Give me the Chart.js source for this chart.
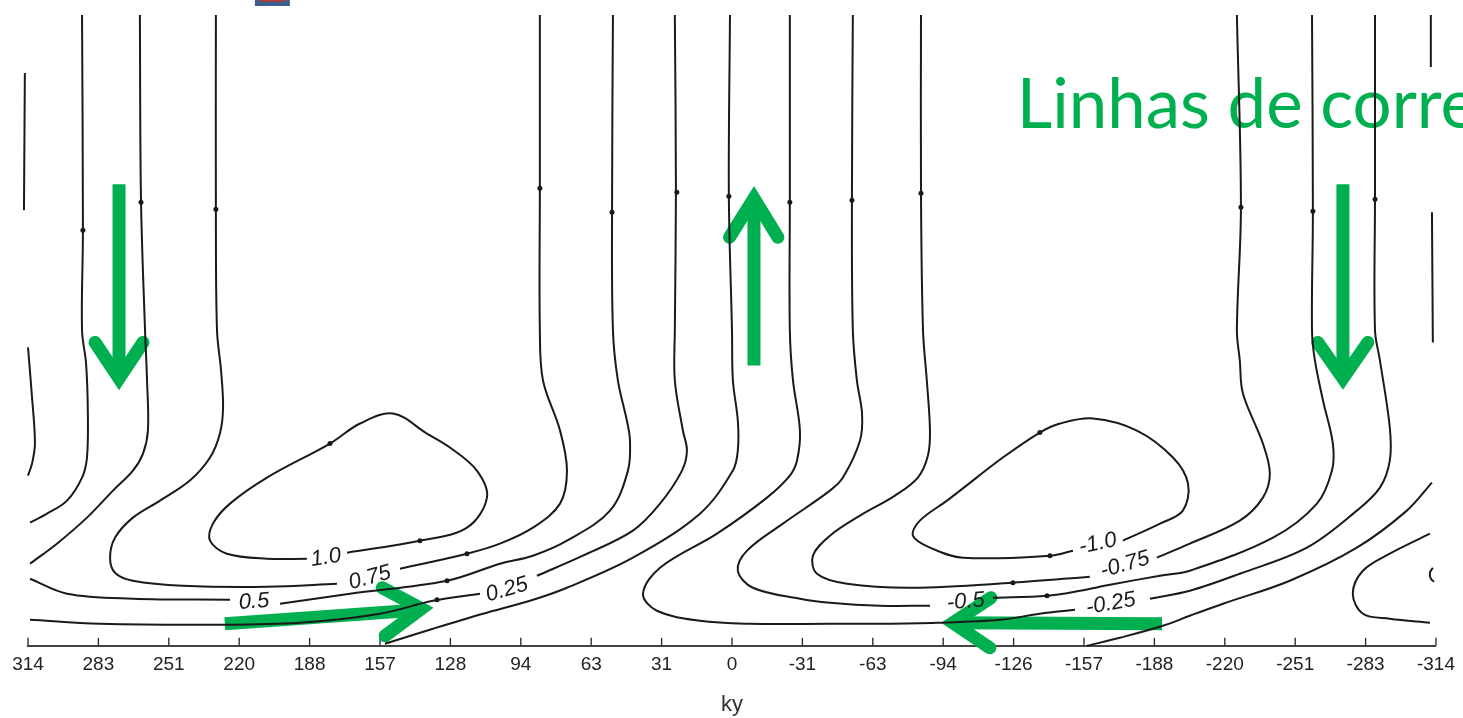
<!DOCTYPE html>
<html>
<head>
<meta charset="utf-8">
<title>Linhas de corrente</title>
<script src="https://cdn.jsdelivr.net/npm/chart.js@4.4.1/dist/chart.umd.min.js"></script>
<style>
  html, body { margin: 0; padding: 0; background: #fff; }
  #wrap { width: 1463px; height: 718px; position: relative; }
</style>
</head>
<body>
<div id="wrap"><canvas id="chart"></canvas></div>
<script>
// eixo ky (invertido: +314 a esquerda)
const tickValues = [314, 282.6, 251.2, 219.8, 188.4, 157, 125.6, 94.2, 62.8, 31.4, 0,
  -31.4, -62.8, -94.2, -125.6, -157, -188.4, -219.8, -251.2, -282.6, -314];
const tickLabels = ['314', '283', '251', '220', '188', '157', '128', '94', '63', '31', '0',
  '-31', '-63', '-94', '-126', '-157', '-188', '-220', '-251', '-283', '-314'];

// linhas de corrente, pontos [ky, altura]
const lineA1 = [[315.4, 5.72], [315.8, 4.35]];
const lineA2 = [[314.0, 2.98], [312.2, 2.48], [310.9, 2.02], [312.2, 1.82], [314.0, 1.70]];
const lineB = [[289.9, 6.30], [289.5, 4.15], [289.9, 3.15], [288.1, 2.82], [287.3, 2.32], [287.7, 1.88],
  [289.9, 1.68], [296.6, 1.45], [305.5, 1.32], [313.1, 1.23]];
const lineC = [[264.1, 6.30], [263.6, 4.45], [261.8, 3.15], [260.9, 2.65], [260.5, 2.15], [262.7, 1.92],
  [267.2, 1.75], [276.1, 1.55], [287.7, 1.28], [301.1, 1.02], [313.1, 0.82]];
const psi075a = [[230.2, 6.30], [230.2, 4.35], [229.7, 3.15], [227.9, 2.75], [227.0, 2.38], [228.4, 2.12],
  [232.8, 1.88], [241.8, 1.65], [255.1, 1.45], [267.2, 1.28], [275.2, 1.08], [277.4, 0.88], [275.2, 0.73],
  [267.2, 0.65], [244.9, 0.60], [207.4, 0.59], [176.2, 0.62]];
const psi075b = [[148.1, 0.77], [118.2, 0.92], [103.5, 1.02], [88.8, 1.18], [76.7, 1.42], [73.6, 1.75],
  [76.7, 2.15], [84.3, 2.65], [85.7, 3.15], [85.7, 4.57], [85.7, 6.30]];
const eddyPos = [[171.7, 0.93], [139.2, 1.05], [118.2, 1.18], [109.3, 1.48], [113.8, 1.75], [125.8, 1.98],
  [136.1, 2.12], [151.2, 2.32], [165.9, 2.22], [179.3, 2.02], [207.4, 1.68], [223.9, 1.42], [231.5, 1.22],
  [232.8, 1.05], [225.3, 0.92], [207.4, 0.87], [189.6, 0.87]];
const psi05a = [[313.1, 0.67], [296.6, 0.52], [267.2, 0.47], [223.9, 0.46]];
const psi05b = [[201.6, 0.42], [170.4, 0.52], [127.1, 0.65], [103.5, 0.82], [88.8, 0.90], [73.6, 1.05],
  [54.4, 1.35], [46.4, 1.75], [45.5, 2.05], [46.9, 2.25], [50.9, 2.65], [53.1, 3.15], [53.5, 4.33], [53.1, 6.30]];
const psi025a = [[313.1, 0.26], [281.9, 0.22], [229.7, 0.21], [192.7, 0.23], [157.0, 0.32], [133.4, 0.45], [112.4, 0.52]];
const psi025b = [[87.0, 0.70], [66.5, 0.90], [44.2, 1.15], [32.1, 1.42], [22.3, 1.75], [20.1, 1.95],
  [21.9, 2.15], [25.5, 2.65], [25.5, 3.15], [25.0, 4.53], [25.5, 6.30]];
const psi0L = [[154.8, 0.02], [133.4, 0.17], [111.1, 0.32], [90.1, 0.45], [73.6, 0.58], [44.2, 0.88],
  [14.3, 1.32], [-0.4, 1.75], [-2.6, 1.95], [-2.6, 2.25], [-0.4, 2.65], [0.0, 3.15], [1.4, 4.50], [0.9, 6.30]];
const lineIa = [[-25.8, 6.30], [-25.8, 4.43], [-25.8, 3.15], [-27.2, 2.65], [-30.3, 2.15], [-29.0, 1.85],
  [-25.8, 1.70], [-15.6, 1.48], [6.7, 1.12], [32.1, 0.78], [39.7, 0.52], [33.5, 0.35], [14.3, 0.25],
  [-8.0, 0.22], [-43.7, 0.22], [-66.0, 0.22], [-91.4, 0.23], [-119.5, 0.26], [-137.3, 0.32], [-153.0, 0.36]];
const lineIb = [[-186.4, 0.47], [-204.2, 0.55], [-226.5, 0.72], [-256.4, 0.98], [-278.7, 1.35], [-289.0, 1.58],
  [-293.4, 1.85], [-293.4, 2.18], [-289.0, 2.85], [-286.8, 3.15], [-286.8, 4.46], [-286.8, 6.30]];
const lineJa = [[-53.9, 6.30], [-53.5, 4.45], [-53.9, 3.15], [-55.7, 2.65], [-58.0, 2.32], [-57.1, 2.05],
  [-49.5, 1.68], [-43.7, 1.55], [-22.7, 1.22], [-6.7, 0.95], [-2.6, 0.75], [-9.3, 0.58], [-30.3, 0.47],
  [-43.7, 0.43], [-66.0, 0.40], [-88.3, 0.40]];
const lineJb = [[-116.4, 0.48], [-140.5, 0.50], [-155.2, 0.55], [-168.6, 0.61], [-190.9, 0.70], [-204.2, 0.75],
  [-241.3, 1.08], [-260.9, 1.42], [-267.6, 1.75], [-268.0, 2.02], [-263.6, 2.45], [-260.0, 2.85],
  [-258.7, 3.15], [-259.1, 4.34], [-258.7, 6.30]];
const lineKa = [[-84.3, 6.30], [-84.3, 4.52], [-85.2, 3.15], [-86.9, 2.65], [-88.3, 2.15], [-87.4, 1.90],
  [-82.9, 1.68], [-72.7, 1.50], [-57.1, 1.30], [-43.7, 1.10], [-36.1, 0.90], [-37.9, 0.72], [-51.3, 0.62],
  [-80.7, 0.58], [-125.3, 0.63], [-159.6, 0.69]];
const lineKb = [[-189.5, 0.88], [-204.2, 1.02], [-226.5, 1.25], [-236.8, 1.48], [-239.9, 1.72], [-236.8, 2.02],
  [-227.9, 2.52], [-226.5, 2.85], [-225.2, 3.15], [-227.0, 4.38], [-225.2, 6.30]];
const eddyNeg = [[-174.4, 1.05], [-190.9, 1.22], [-201.1, 1.35], [-203.4, 1.62], [-196.7, 1.88], [-180.6, 2.15],
  [-161.0, 2.27], [-146.3, 2.22], [-137.3, 2.13], [-120.8, 1.88], [-101.7, 1.55], [-95.9, 1.45], [-83.8, 1.25],
  [-80.7, 1.10], [-88.3, 0.98], [-103.0, 0.88], [-141.8, 0.90], [-152.1, 0.95]];
const psi0R = [[-158.3, 0.00], [-173.0, 0.08], [-192.2, 0.20], [-204.2, 0.30], [-219.0, 0.42], [-248.8, 0.65],
  [-278.7, 0.98], [-301.0, 1.35], [-312.2, 1.63]];
const edgeU = [[-311.3, 1.12], [-293.4, 0.92], [-281.4, 0.75], [-276.9, 0.52], [-281.4, 0.32], [-293.4, 0.27], [-311.3, 0.23]];
const edgeArc = [[-312.6, 0.78], [-311.3, 0.73], [-311.7, 0.67], [-313.1, 0.64]];
const lineO1 = [[-311.7, 6.30], [-311.7, 5.78]];
const lineO2 = [[-312.2, 4.33], [-312.6, 3.03]];

const streamlines = [lineA1, lineA2, lineB, lineC, psi075a, psi075b, eddyPos, psi05a, psi05b,
  psi025a, psi025b, psi0L, lineIa, lineIb, lineJa, lineJb, lineKa, lineKb, eddyNeg, psi0R,
  edgeU, edgeArc, lineO1, lineO2];

// pequenas marcas de direcao sobre as linhas
const flowDots = [[289.5, 4.15], [263.6, 4.43], [230.2, 4.36], [85.7, 4.57], [53.5, 4.33], [24.6, 4.53],
  [1.4, 4.49], [-25.8, 4.43], [-53.5, 4.45], [-84.3, 4.52], [-227.0, 4.38], [-259.1, 4.34], [-286.8, 4.46],
  [179.3, 2.02], [139.2, 1.05], [118.2, 0.92], [127.1, 0.65], [131.6, 0.46],
  [-137.3, 2.13], [-141.8, 0.90], [-125.3, 0.63], [-140.5, 0.50]];

// rotulos das linhas
const contourText = ['1.0', '0.75', '0.5', '0.25', '-1.0', '-0.75', '-0.5', '-0.25'];
const contourX = [181.1, 161.5, 213.2, 100.4, -163.2, -175.3, -104.3, -169.0];
const contourY = [0.88, 0.68, 0.44, 0.56, 1.02, 0.81, 0.44, 0.42];
const contourRot = [-8, -15, -4, -16, -12, -16, -5, -10];

// setas verdes (haste + ponta)
const arrowShafts = [
  [[273.4, 4.61], [273.4, 2.67]],
  [[-9.8, 2.80], [-9.8, 4.47]],
  [[-272.5, 4.61], [-272.5, 2.67]],
  [[226.2, 0.22], [138.5, 0.36]],
  [[-191.8, 0.22], [-98.5, 0.23]]
];
const arrowHeads = [
  [[284.1, 3.03], [273.4, 2.67], [262.7, 3.03]],
  [[1.1, 4.08], [-9.8, 4.47], [-20.5, 4.08]],
  [[-261.3, 3.03], [-272.5, 2.67], [-283.6, 3.03]],
  [[156.0, 0.58], [138.5, 0.37], [154.7, 0.10]],
  [[-115.5, 0.48], [-98.5, 0.23], [-115.0, -0.02]]
];

const GREEN = '#00b050';
const INK = '#1a1a1a';
const toXY = pts => pts.map(([x, y]) => ({ x, y }));

const datasets = [];
streamlines.forEach(pts => {
  datasets.push({
    data: toXY(pts),
    showLine: true,
    borderColor: INK,
    borderWidth: 2,
    tension: 0.35,
    pointRadius: 0,
    clip: false
  });
});
datasets.push({
  data: toXY(flowDots),
  showLine: false,
  pointRadius: 2.5,
  pointBackgroundColor: INK,
  pointBorderWidth: 0,
  clip: false
});
arrowShafts.forEach(pts => {
  datasets.push({
    data: toXY(pts), showLine: true, borderColor: GREEN, borderWidth: 13,
    borderCapStyle: 'butt', pointRadius: 0, clip: false
  });
});
arrowHeads.forEach(pts => {
  datasets.push({
    data: toXY(pts), showLine: true, borderColor: GREEN, borderWidth: 13,
    borderCapStyle: 'round', borderJoinStyle: 'miter', pointRadius: 0, clip: false
  });
});

// tracos do eixo virados para cima + titulo verde
const underlay = {
  id: 'underlay',
  beforeDatasetsDraw(chart) {
    const { ctx, scales: { x, y } } = chart;
    const y0 = y.getPixelForValue(0);
    ctx.save();
    ctx.strokeStyle = '#333';
    ctx.lineWidth = 1.4;
    tickValues.forEach(v => {
      const px = x.getPixelForValue(v);
      ctx.beginPath();
      ctx.moveTo(px, y0);
      ctx.lineTo(px, y0 - 8);
      ctx.stroke();
    });
    ctx.fillStyle = GREEN;
    ctx.font = '69px Lato';
    ctx.textBaseline = 'alphabetic';
    ctx.fillText('Linhas de corre', x.getPixelForValue(-127.0), y.getPixelForValue(5.17));
    // pedaco de icone cortado no topo
    const bx0 = x.getPixelForValue(212.8), bx1 = x.getPixelForValue(197.2);
    ctx.fillStyle = '#3b5e8c';
    ctx.fillRect(bx0, 0, bx1 - bx0, 6);
    ctx.fillStyle = '#c0392b';
    ctx.fillRect(bx0 + 5, 0, bx1 - bx0 - 10, 1.5);
    ctx.restore();
  }
};

const contourLabels = {
  id: 'contourLabels',
  afterDatasetsDraw(chart) {
    const { ctx, scales: { x, y } } = chart;
    ctx.save();
    ctx.fillStyle = INK;
    ctx.font = 'italic 22px "Liberation Sans"';
    ctx.textAlign = 'center';
    ctx.textBaseline = 'middle';
    contourText.forEach((t, i) => {
      ctx.save();
      ctx.translate(x.getPixelForValue(contourX[i]), y.getPixelForValue(contourY[i]));
      ctx.rotate(contourRot[i] * Math.PI / 180);
      ctx.fillText(t, 0, 0);
      ctx.restore();
    });
    ctx.restore();
  }
};

new Chart(document.getElementById('chart'), {
  type: 'scatter',
  data: { datasets },
  plugins: [underlay, contourLabels],
  options: {
    responsive: true,
    maintainAspectRatio: false,
    animation: false,
    layout: { padding: { left: 28, right: 27, top: 15, bottom: 0 } },
    plugins: { legend: { display: false }, tooltip: { enabled: false } },
    scales: {
      x: {
        type: 'linear',
        min: -314,
        max: 314,
        reverse: true,
        afterBuildTicks: scale => { scale.ticks = tickValues.map(v => ({ value: v })); },
        grid: { display: false, drawTicks: false },
        border: { display: true, color: '#444', width: 2 },
        ticks: {
          autoSkip: false,
          maxRotation: 0,
          padding: 8,
          color: '#222',
          font: { family: 'Liberation Sans', size: 19 },
          callback: (v, i) => tickLabels[i]
        },
        title: {
          display: true,
          text: 'ky',
          color: '#333',
          font: { family: 'Liberation Sans', size: 22 },
          padding: { top: 7, bottom: 0 }
        }
      },
      y: {
        min: 0,
        max: 6.3,
        display: false
      }
    }
  }
});
</script>
</body>
</html>
